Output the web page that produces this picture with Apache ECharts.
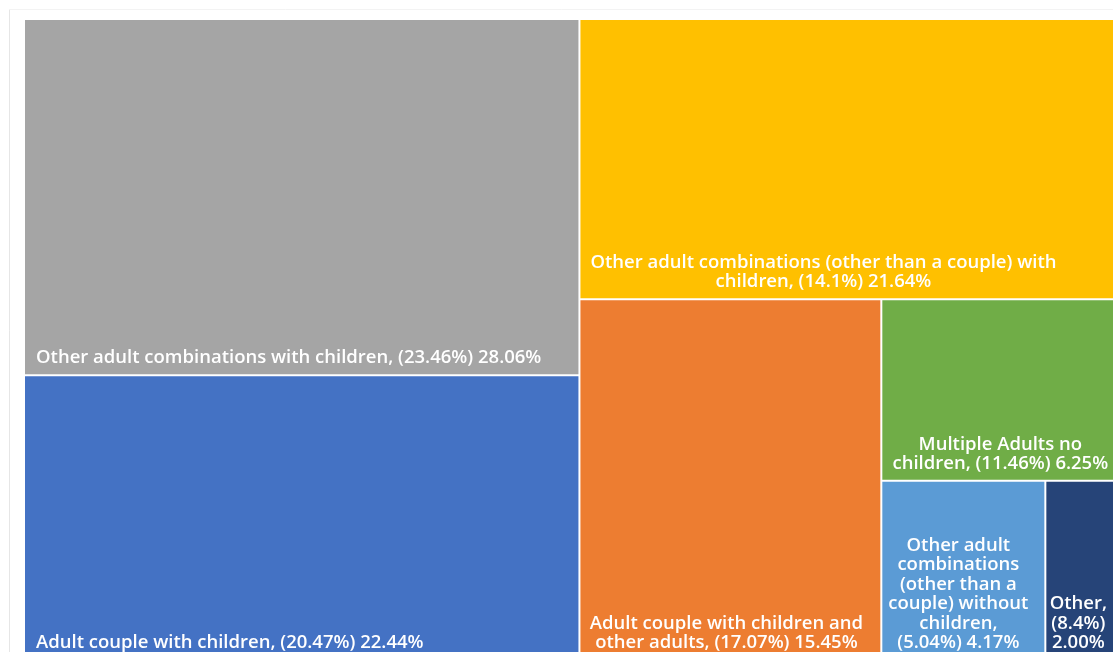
<!DOCTYPE html>
<html>
<head>
<meta charset="utf-8">
<script src="https://cdn.jsdelivr.net/npm/echarts@6/dist/echarts.min.js"></script>
<style>
html,body{margin:0;padding:0;background:#fff;}
#chart{width:1113px;height:652px;}
</style>
</head>
<body>
<div id="chart"></div>
<script>
// ---- data ----
const categories = [
  'Other adult combinations with children',
  'Adult couple with children',
  'Other adult combinations (other than a couple) with children',
  'Adult couple with children and other adults',
  'Multiple Adults no children',
  'Other adult combinations (other than a couple) without children',
  'Other'
];
const shares = [23.46, 20.47, 14.1, 17.07, 11.46, 5.04, 8.4];
const values = [28.06, 22.44, 21.64, 15.45, 6.25, 4.17, 2.00];
const colors = ['#A5A5A5', '#4472C4', '#FFC000', '#ED7D31', '#70AD47', '#5B9BD5', '#264478'];

// ---- label layout (words per line, anchor x from rect left, alignment) ----
const wordsPerLine = [null, null, [8, 3], [5, 4], [3, 3], [2, 1, 3, 2, 1, 2], [1, 1, 1]];
const labelAnchor = [
  {x: 11, align: 'left'},
  {x: 11, align: 'left'},
  {x: 243, align: 'center'},
  {x: 146, align: 'center'},
  {x: 118, align: 'center'},
  {x: 76, align: 'center'},
  {x: 32, align: 'center'}
];

function buildLabel(i) {
  const txt = categories[i] + ', (' + shares[i] + '%) ' + values[i].toFixed(2) + '%';
  const wpl = wordsPerLine[i];
  if (!wpl) return txt;
  const words = txt.split(' ');
  const lines = [];
  let k = 0;
  wpl.forEach(n => { lines.push(words.slice(k, k + n).join(' ')); k += n; });
  if (k < words.length) lines[lines.length - 1] += ' ' + words.slice(k).join(' ');
  return lines.join('\n');
}

const LH = 19.5;
const data = categories.map((name, i) => ({
  name: name,
  value: values[i],
  itemStyle: {color: colors[i]},
  label: {
    formatter: buildLabel(i),
    position: [labelAnchor[i].x, '100%'],
    align: labelAnchor[i].align,
    verticalAlign: 'bottom',
    offset: [0, -(16 - LH / 2)]
  }
}));

const chart = echarts.init(document.getElementById('chart'), null, {renderer: 'canvas'});
chart.setOption({
  backgroundColor: '#ffffff',
  animation: false,
  graphic: [
    {type: 'line', shape: {x1: 9.5, y1: 9.5, x2: 9.5, y2: 652}, style: {stroke: '#e6e6e6', lineWidth: 1}, silent: true},
    {type: 'line', shape: {x1: 9.5, y1: 9.5, x2: 1113, y2: 9.5}, style: {stroke: '#f3f3f3', lineWidth: 1}, silent: true}
  ],
  series: [{
    type: 'treemap',
    left: 25, top: 20, width: 1098, height: 639,
    roam: false,
    nodeClick: false,
    squareRatio: 1,
    sort: 'desc',
    breadcrumb: {show: false},
    label: {
      show: true,
      color: '#ffffff',
      fontFamily: 'Open Sans',
      fontWeight: 600,
      fontSize: 18.5,
      lineHeight: LH,
      padding: 0,
      distance: 0
    },
    itemStyle: {borderWidth: 0, gapWidth: 2, borderColor: '#ffffff'},
    levels: [{itemStyle: {borderWidth: 0, gapWidth: 2, borderColor: '#ffffff'}}],
    emphasis: {disabled: true},
    data: data
  }]
});
</script>
</body>
</html>
